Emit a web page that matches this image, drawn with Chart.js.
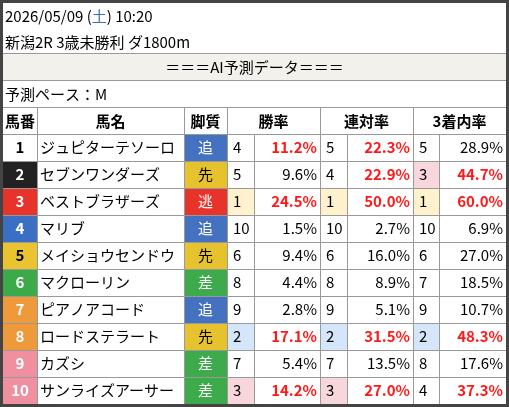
<!DOCTYPE html>
<html><head><meta charset="utf-8">
<script src="https://cdn.jsdelivr.net/npm/chart.js@4"></script>
<style>html,body{margin:0;padding:0;background:#444}canvas{display:block}</style>
</head><body>
<canvas id="c" width="509" height="407"></canvas>
<script>
// race info
const title1 = '2026/05/09 (土) 10:20';
const title2 = '新潟2R 3歳未勝利 ダ1800m';
const banner = '＝＝＝AI予測データ＝＝＝';
const pace = '予測ペース：M';
const headers = ['馬番', '馬名', '脚質', '勝率', '連対率', '3着内率'];

const gates = [1, 2, 3, 4, 5, 6, 7, 8, 9, 10];
const names = ['ジュピターテソーロ', 'セブンワンダーズ', 'ベストブラザーズ', 'マリブ', 'メイショウセンドウ', 'マクローリン', 'ピアノアコード', 'ロードステラート', 'カズシ', 'サンライズアーサー'];
const styles = ['追', '先', '逃', '追', '先', '差', '追', '先', '差', '差'];
const winRank = [4, 5, 1, 10, 6, 8, 9, 2, 7, 3];
const winPct = [11.2, 9.6, 24.5, 1.5, 9.4, 4.4, 2.8, 17.1, 5.4, 14.2];
const placeRank = [5, 4, 1, 10, 6, 8, 9, 2, 7, 3];
const placePct = [22.3, 22.9, 50.0, 2.7, 16.0, 8.9, 5.1, 31.5, 13.5, 27.0];
const showRank = [5, 3, 1, 10, 6, 7, 9, 2, 8, 4];
const showPct = [28.9, 44.7, 60.0, 6.9, 27.0, 18.5, 10.7, 48.3, 17.6, 37.3];
const redLimit = [10, 20, 30];

const gateBg = ['#ffffff', '#222222', '#e8332a', '#3a6fc4', '#e9c430', '#3daa4a', '#ef9a3a', '#ef9a3a', '#f08fa0', '#f08fa0'];
const gateFg = ['#000', '#fff', '#fff', '#fff', '#000', '#fff', '#fff', '#fff', '#fff', '#fff'];
const styleBg = {'追': '#4471c0', '先': '#e6c32e', '逃': '#e8332a', '差': '#3dab4b'};
const rankBg = {1: '#fff2cc', 2: '#d6e6fa', 3: '#f7d7dc'};

const F = '"Noto Sans CJK JP", "Noto Sans", sans-serif';
const colEdges = [3, 37, 184, 227, 254, 320, 347, 413, 439, 506];

const tablePlugin = {
  id: 'table',
  afterDraw(chart) {
    const ctx = chart.ctx, xs = chart.scales.x, ys = chart.scales.y;
    const X = v => xs.getPixelForValue(v), Y = v => ys.getPixelForValue(v);
    const L = X(3), R = X(506);
    ctx.save();
    ctx.fillStyle = '#fff';
    ctx.fillRect(L, Y(3), R - L, Y(404) - Y(3));
    ctx.fillStyle = '#f2f1ec';
    ctx.fillRect(L, Y(53), R - L, Y(80) - Y(53));
    ctx.textBaseline = 'middle';
    const txt = (s, x, y, align, color, bold) => {
      ctx.font = (bold ? 'bold ' : '') + '15px ' + F;
      ctx.fillStyle = color; ctx.textAlign = align; ctx.fillText(s, x, y);
    };
    // title with blue 土
    ctx.font = '15px ' + F; ctx.textAlign = 'left'; ctx.fillStyle = '#000';
    const p = title1.indexOf('土');
    let x0 = X(5);
    ctx.fillText(title1.slice(0, p), x0, Y(16));
    x0 += ctx.measureText(title1.slice(0, p)).width;
    ctx.fillStyle = '#3a6fc4'; ctx.fillText('土', x0, Y(16));
    x0 += ctx.measureText('土').width;
    ctx.fillStyle = '#000'; ctx.fillText(title1.slice(p + 1), x0, Y(16));
    txt(title2, X(5), Y(42), 'left', '#000');
    txt(banner, (L + R) / 2, Y(67), 'center', '#000');
    txt(pace, X(5), Y(94), 'left', '#000');
    // header
    const headCols = [[0, 1], [1, 2], [2, 3], [3, 5], [5, 7], [7, 9]];
    headers.forEach((h, i) => {
      const c = headCols[i];
      txt(h, (X(colEdges[c[0]]) + X(colEdges[c[1]])) / 2, Y(121), 'center', '#000', true);
    });
    // rows
    const pcts = [[winRank, winPct], [placeRank, placePct], [showRank, showPct]];
    gates.forEach((g, i) => {
      const top = Y(134 + i * 27), bot = Y(161 + i * 27), mid = (top + bot) / 2;
      const c = k => X(colEdges[k]);
      ctx.fillStyle = gateBg[i]; ctx.fillRect(c(0), top, c(1) - c(0), bot - top);
      txt(String(g), (c(0) + c(1)) / 2, mid, 'center', gateFg[i], true);
      txt(names[i], c(1) + 3, mid, 'left', '#000');
      ctx.fillStyle = styleBg[styles[i]]; ctx.fillRect(c(2), top, c(3) - c(2), bot - top);
      txt(styles[i], (c(2) + c(3)) / 2, mid, 'center', styles[i] === '先' ? '#000' : '#fff');
      pcts.forEach(([rk, pc], j) => {
        const a = 3 + j * 2;
        if (rankBg[rk[i]]) { ctx.fillStyle = rankBg[rk[i]]; ctx.fillRect(c(a), top, c(a + 1) - c(a), bot - top); }
        txt(String(rk[i]), c(a) + 6, mid, 'left', '#000');
        const red = pc[i] > redLimit[j];
        txt(pc[i].toFixed(1) + '%', c(a + 2) - 3, mid, 'right', red ? '#ff1a1a' : '#000', red);
      });
    });
    // grid lines
    ctx.strokeStyle = '#999'; ctx.lineWidth = 1;
    const hl = y => { ctx.beginPath(); ctx.moveTo(L, Y(y) + 0.5); ctx.lineTo(R, Y(y) + 0.5); ctx.stroke(); };
    [53, 80, 107, 134].forEach(hl);
    for (let i = 1; i < 10; i++) hl(134 + i * 27);
    colEdges.slice(1, -1).forEach((e, k) => {
      const y1 = (k === 3 || k === 5 || k === 7) ? 134 : 107;
      ctx.beginPath(); ctx.moveTo(X(e) + 0.5, Y(y1)); ctx.lineTo(X(e) + 0.5, Y(404)); ctx.stroke();
    });
    ctx.restore();
  }
};

new Chart(document.getElementById('c'), {
  type: 'scatter',
  data: { datasets: [{ data: [] }] },
  options: {
    responsive: false, animation: false,
    layout: { padding: 0 },
    plugins: { legend: { display: false }, tooltip: { enabled: false } },
    scales: {
      x: { type: 'linear', min: 0, max: 509, display: false },
      y: { type: 'linear', min: 0, max: 407, reverse: true, display: false }
    }
  },
  plugins: [tablePlugin]
});
</script>
</body></html>
